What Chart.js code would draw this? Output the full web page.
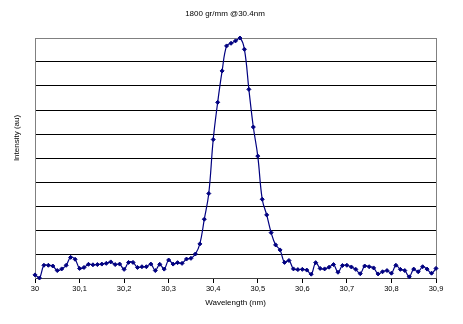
<!DOCTYPE html>
<html>
<head>
<meta charset="utf-8">
<script src="https://cdn.jsdelivr.net/npm/chart.js@4/dist/chart.umd.min.js"></script>
<style>
  html, body { margin: 0; padding: 0; background: #ffffff; }
  canvas { display: block; }
</style>
</head>
<body>
<canvas id="spectrum" width="463" height="324"></canvas>
<script>
// Scan positions (nm) and measured intensity (arbitrary units)
const wavelengths = [
  30.00, 30.01, 30.02, 30.03, 30.04, 30.05, 30.06, 30.07, 30.08, 30.09,
  30.10, 30.11, 30.12, 30.13, 30.14, 30.15, 30.16, 30.17, 30.18, 30.19,
  30.20, 30.21, 30.22, 30.23, 30.24, 30.25, 30.26, 30.27, 30.28, 30.29,
  30.30, 30.31, 30.32, 30.33, 30.34, 30.35, 30.36, 30.37, 30.38, 30.39,
  30.40, 30.41, 30.42, 30.43, 30.44, 30.45, 30.46, 30.47, 30.48, 30.49,
  30.50, 30.51, 30.52, 30.53, 30.54, 30.55, 30.56, 30.57, 30.58, 30.59,
  30.60, 30.61, 30.62, 30.63, 30.64, 30.65, 30.66, 30.67, 30.68, 30.69,
  30.70, 30.71, 30.72, 30.73, 30.74, 30.75, 30.76, 30.77, 30.78, 30.79,
  30.80, 30.81, 30.82, 30.83, 30.84, 30.85, 30.86, 30.87, 30.88, 30.89,
  30.90
];

const intensity = [
  0.13, 0.00, 0.53, 0.53, 0.50, 0.31, 0.38, 0.53, 0.86, 0.78,
  0.40, 0.44, 0.57, 0.55, 0.56, 0.58, 0.61, 0.67, 0.56, 0.58,
  0.36, 0.65, 0.65, 0.44, 0.47, 0.47, 0.58, 0.31, 0.57, 0.37,
  0.75, 0.58, 0.64, 0.61, 0.79, 0.82, 1.00, 1.42, 2.45, 3.52,
  5.77, 7.32, 8.63, 9.67, 9.78, 9.88, 10.00, 9.53, 7.86, 6.29,
  5.08, 3.28, 2.63, 1.89, 1.38, 1.17, 0.65, 0.73, 0.38, 0.35,
  0.36, 0.33, 0.16, 0.64, 0.40, 0.38, 0.45, 0.56, 0.24, 0.52,
  0.53, 0.46, 0.36, 0.18, 0.50, 0.47, 0.42, 0.17, 0.26, 0.31,
  0.20, 0.53, 0.36, 0.31, 0.05, 0.37, 0.26, 0.47, 0.37, 0.20,
  0.40
];

const xTicks = [30, 30.1, 30.2, 30.3, 30.4, 30.5, 30.6, 30.7, 30.8, 30.9];
const xTickLabels = ['30', '30,1', '30,2', '30,3', '30,4', '30,5', '30,6', '30,7', '30,8', '30,9'];

const chartTitle = '1800 gr/mm @30.4nm';
const xAxisTitle = 'Wavelength (nm)';
const yAxisTitle = 'Intensity (au)';

const FONT = '"Liberation Sans", Arial, sans-serif';
const NAVY = '#000080';

// Grey frame on the right edge of the plot area
const plotFrame = {
  id: 'plotFrame',
  beforeDatasetsDraw(chart) {
    const { ctx, chartArea: a } = chart;
    ctx.save();
    ctx.strokeStyle = '#808080';
    ctx.lineWidth = 1;
    ctx.beginPath();
    ctx.moveTo(Math.round(a.right) + 0.5, a.top);
    ctx.lineTo(Math.round(a.right) + 0.5, a.bottom);
    ctx.stroke();
    ctx.restore();
  }
};

// Chart heading and vertical axis caption
const captions = {
  id: 'captions',
  afterDraw(chart) {
    const { ctx } = chart;
    ctx.save();
    ctx.fillStyle = '#000';
    ctx.font = '8px ' + FONT;
    ctx.textAlign = 'center';
    ctx.textBaseline = 'middle';
    ctx.fillText(chartTitle, 225, 14);
    ctx.translate(17, 138);
    ctx.rotate(-Math.PI / 2);
    ctx.fillText(yAxisTitle, 0, 0);
    ctx.restore();
  }
};

new Chart(document.getElementById('spectrum'), {
  type: 'line',
  data: {
    datasets: [{
      data: wavelengths.map((w, i) => ({ x: w, y: intensity[i] })),
      borderColor: NAVY,
      backgroundColor: NAVY,
      borderWidth: 1.2,
      tension: 0.4,
      pointStyle: 'rectRot',
      pointRadius: 2,
      pointBorderWidth: 1,
      pointBackgroundColor: NAVY,
      pointBorderColor: NAVY,
      fill: false,
      clip: false
    }]
  },
  options: {
    responsive: false,
    animation: false,
    devicePixelRatio: 1,
    layout: { padding: { top: 38, right: 27, bottom: 0, left: 0 } },
    plugins: {
      legend: { display: false },
      tooltip: { enabled: false },
      title: { display: false }
    },
    scales: {
      x: {
        type: 'linear',
        min: 30,
        max: 30.9,
        afterBuildTicks(scale) {
          scale.ticks = xTicks.map(v => ({ value: v }));
        },
        afterFit(scale) { scale.height = 46; },
        ticks: {
          autoSkip: false,
          maxRotation: 0,
          padding: 1,
          color: '#000',
          font: { family: FONT, size: 7.5 },
          callback: (value, index) => xTickLabels[index]
        },
        grid: {
          drawOnChartArea: false,
          drawTicks: true,
          tickLength: 5,
          color: '#000'
        },
        border: { color: '#404040' },
        title: {
          display: true,
          text: xAxisTitle,
          color: '#000',
          font: { family: FONT, size: 8 },
          padding: { top: 0, bottom: 16 }
        }
      },
      y: {
        type: 'linear',
        min: 0,
        max: 10,
        afterFit(scale) { scale.width = 35; },
        ticks: { display: false, stepSize: 1 },
        grid: {
          drawTicks: false,
          lineWidth: 1,
          color: ctx => (ctx.tick && ctx.tick.value === 10) ? '#808080' : '#000'
        },
        border: { color: '#808080' }
      }
    }
  },
  plugins: [plotFrame, captions]
});
</script>
</body>
</html>
